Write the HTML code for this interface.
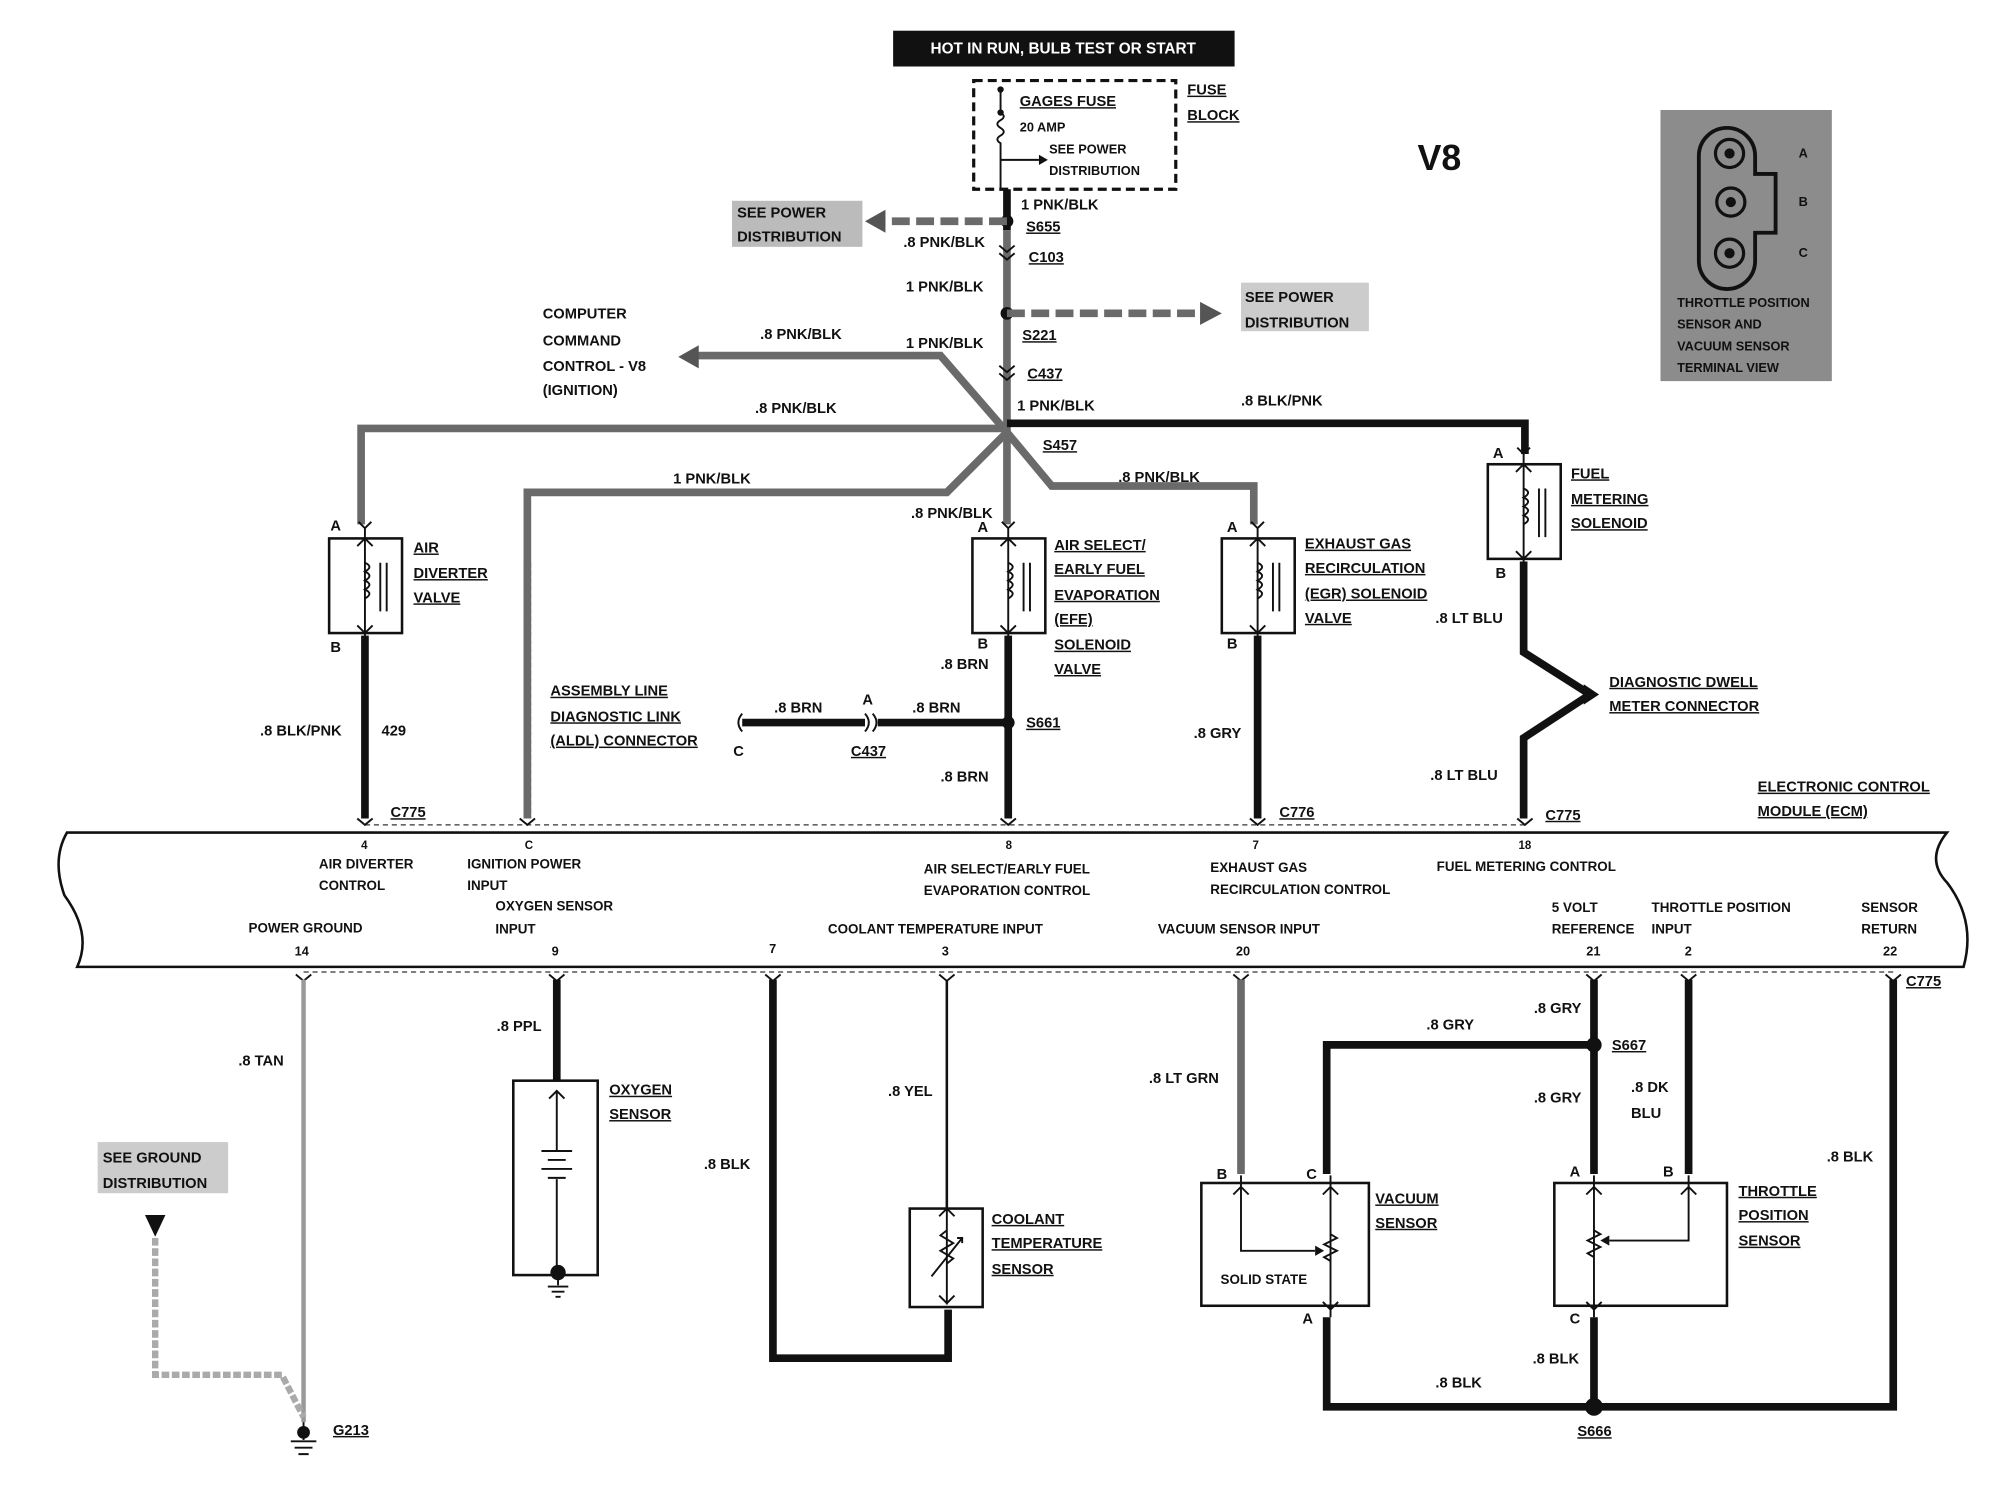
<!DOCTYPE html>
<html><head><meta charset="utf-8"><style>
html,body{margin:0;padding:0;background:#fff;}
svg{display:block;}
text{font-family:"Liberation Sans",sans-serif;font-weight:bold;font-size:11.5px;fill:#111;}
.u{text-decoration:underline;}
.g{stroke:#6a6a6a;stroke-width:6;fill:none;}
.k{stroke:#111;stroke-width:6;fill:none;}
.t{stroke:#111;stroke-width:1.5;fill:none;}
.bx{stroke:#111;stroke-width:2;fill:#fff;}
</style></head><body>
<svg width="1996" height="1504" viewBox="0 0 1560 1176" xmlns="http://www.w3.org/2000/svg">
<rect x="0" y="0" width="1560" height="1176" fill="#fff"/>
<rect x="698" y="24" width="267" height="28" fill="#111"/>
<text x="831" y="42" text-anchor="middle" style="fill:#fff;font-size:12px">HOT IN RUN,   BULB TEST OR START</text>
<rect x="761" y="63" width="158" height="85" fill="none" stroke="#111" stroke-width="2.5" stroke-dasharray="7,4"/>
<path class="t" d="M782 70 V88 q5 3 0 6 q-5 3 0 6 q5 3 0 6 q-5 3 0 6 V148" stroke-width="2"/>
<circle cx="782" cy="70" r="2.5" fill="#111"/><circle cx="782" cy="88" r="2.5" fill="#111"/>
<path class="t" d="M782 125 H812" stroke-width="2"/><path d="M812 121 L819 125 L812 129Z" fill="#111"/>
<text x="797" y="83" class="u">GAGES FUSE</text>
<text x="797" y="103" style="font-size:10px">20 AMP</text>
<text x="820" y="120" style="font-size:10px">SEE POWER</text>
<text x="820" y="137" style="font-size:10px">DISTRIBUTION</text>
<text x="928" y="74" class="u">FUSE</text><text x="928" y="94" class="u">BLOCK</text>
<text x="1108" y="133" style="font-size:28px">V8</text>
<rect x="1298" y="86" width="134" height="212" fill="#8c8c8c"/>
<path d="M1350 100 a22 22 0 0 1 22 22 v14 h16 v46 h-16 v22 a22 22 0 0 1 -44 0 v-82 a22 22 0 0 1 22 -22z" fill="none" stroke="#111" stroke-width="3"/>
<circle cx="1352" cy="120" r="11" fill="none" stroke="#111" stroke-width="2.5"/><circle cx="1352" cy="120" r="4" fill="#111"/>
<circle cx="1353" cy="158" r="11" fill="none" stroke="#111" stroke-width="2.5"/><circle cx="1353" cy="158" r="4" fill="#111"/>
<circle cx="1352" cy="198" r="11" fill="none" stroke="#111" stroke-width="2.5"/><circle cx="1352" cy="198" r="4" fill="#111"/>
<text x="1406" y="123" style="font-size:10px">A</text><text x="1406" y="161" style="font-size:10px">B</text><text x="1406" y="201" style="font-size:10px">C</text>
<text x="1311" y="240" style="font-size:10px">THROTTLE POSITION</text>
<text x="1311" y="257" style="font-size:10px">SENSOR AND</text>
<text x="1311" y="274" style="font-size:10px">VACUUM SENSOR</text>
<text x="1311" y="291" style="font-size:10px">TERMINAL VIEW</text>
<path class="k" d="M787 148 V180"/>
<path class="g" d="M787 180 V338"/>
<circle cx="787" cy="173" r="5" fill="#111"/>
<path class="g" d="M787 173 H690" stroke-dasharray="14,5" stroke-width="7"/>
<path d="M692 164 L676 173 L692 182Z" fill="#555"/>
<rect x="572" y="157" width="102" height="36" fill="#bbb"/>
<text x="576" y="170">SEE POWER</text><text x="576" y="189">DISTRIBUTION</text>
<text x="798" y="164">1 PNK/BLK</text><text x="802" y="181" class="u">S655</text>
<text x="706" y="193">.8 PNK/BLK</text>
<path class="t" d="M781 192 l6 5 l6 -5 M781 198 l6 5 l6 -5" stroke-width="2"/>
<text x="804" y="205" class="u">C103</text>
<text x="708" y="228">1 PNK/BLK</text>
<circle cx="787" cy="245" r="5" fill="#111"/>
<path class="g" d="M787 245 H940" stroke-dasharray="14,5" stroke-width="7"/>
<path d="M938 236 L955 245 L938 254Z" fill="#555"/>
<rect x="970" y="221" width="100" height="38" fill="#ccc"/>
<text x="973" y="236">SEE POWER</text><text x="973" y="256">DISTRIBUTION</text>
<text x="799" y="266" class="u">S221</text>
<path class="t" d="M781 286 l6 5 l6 -5 M781 292 l6 5 l6 -5" stroke-width="2"/>
<text x="803" y="296" class="u">C437</text>
<path class="g" d="M787 338 L735 278 H545"/>
<path d="M546 270 L530 279 L546 288Z" fill="#555"/>
<text x="424" y="249">COMPUTER</text><text x="424" y="270">COMMAND</text><text x="424" y="290">CONTROL - V8</text><text x="424" y="309">(IGNITION)</text>
<text x="594" y="265">.8 PNK/BLK</text><text x="708" y="272">1 PNK/BLK</text>
<path class="g" d="M787 335 H282 V410"/>
<text x="590" y="323">.8 PNK/BLK</text>
<path class="k" d="M787 331 H1192 V355" stroke-width="5"/>
<text x="970" y="317">.8 BLK/PNK</text><text x="795" y="321">1 PNK/BLK</text>
<text x="815" y="352" class="u">S457</text>
<path class="g" d="M787 338 L740 385 H412 V640" />
<path class="g" d="M412 440 V640" stroke="#999" stroke-dasharray="4,2"/>
<text x="526" y="378">1 PNK/BLK</text>
<path class="g" d="M787 338 V410"/>
<text x="712" y="405">.8 PNK/BLK</text>
<path class="g" d="M787 338 L822 380 H980 V410"/>
<text x="874" y="377">.8 PNK/BLK</text>
<g id="sol">
<rect class="bx" x="257" y="421" width="57" height="74"/>
<path class="t" d="M285 413 l-5 -5 M285 413 l5 -5 M285 413 V500 M279 489 l6 6 l6 -6 M279 427 l6 -6 l6 6"/>
<path class="t" d="M285 440 q7 3 0 7 q7 3 0 7 q7 3 0 7 q7 3 0 7"/>
<path class="t" d="M297 440 V478 M302 440 V478"/>
</g>
<text x="258" y="415">A</text><text x="258" y="510">B</text>
<text x="323" y="432" class="u">AIR</text><text x="323" y="452" class="u">DIVERTER</text><text x="323" y="471" class="u">VALVE</text>
<path class="k" d="M285 497 V640"/>
<text x="203" y="575">.8 BLK/PNK</text><text x="298" y="575">429</text>
<text x="305" y="639" class="u">C775</text>
<use href="#sol" x="503" y="0"/>
<text x="764" y="416">A</text><text x="764" y="507">B</text>
<text x="824" y="430" class="u">AIR SELECT/</text><text x="824" y="449" class="u">EARLY FUEL</text><text x="824" y="469" class="u">EVAPORATION</text><text x="824" y="488" class="u">(EFE)</text><text x="824" y="508" class="u">SOLENOID</text><text x="824" y="527" class="u">VALVE</text>
<path class="k" d="M788 497 V640"/>
<text x="735" y="523">.8 BRN</text>
<circle cx="788" cy="565" r="5" fill="#111"/>
<text x="802" y="569" class="u">S661</text><text x="735" y="611">.8 BRN</text>
<text x="430" y="544" class="u">ASSEMBLY LINE</text><text x="430" y="564" class="u">DIAGNOSTIC LINK</text><text x="430" y="583" class="u">(ALDL) CONNECTOR</text>
<path class="t" d="M580 558 q-6 7 0 14" stroke-width="2.5"/>
<path class="k" d="M580 565 H676 M686 565 H788" stroke-width="5"/>
<path class="t" d="M676 558 q6 7 0 14 M682 558 q6 7 0 14" stroke-width="2.5"/>
<text x="573" y="591">C</text><text x="674" y="551">A</text><text x="665" y="591" class="u">C437</text>
<text x="605" y="557">.8 BRN</text><text x="713" y="557">.8 BRN</text>
<use href="#sol" x="698" y="0"/>
<text x="959" y="416">A</text><text x="959" y="507">B</text>
<text x="1020" y="429" class="u">EXHAUST GAS</text><text x="1020" y="448" class="u">RECIRCULATION</text><text x="1020" y="468" class="u">(EGR) SOLENOID</text><text x="1020" y="487" class="u">VALVE</text>
<path class="k" d="M983 497 V640"/>
<text x="933" y="577">.8 GRY</text><text x="1000" y="639" class="u">C776</text>
<use href="#sol" x="906" y="-58"/>
<text x="1167" y="358">A</text><text x="1169" y="452">B</text>
<text x="1228" y="374" class="u">FUEL</text><text x="1228" y="394" class="u">METERING</text><text x="1228" y="413" class="u">SOLENOID</text>
<path class="k" d="M1191 439 V510 L1243 543 L1191 577 V640"/>
<path d="M1238 535 L1250 543 L1238 551Z" fill="#111"/>
<text x="1122" y="487">.8 LT BLU</text><text x="1118" y="610">.8 LT BLU</text>
<text x="1258" y="537" class="u">DIAGNOSTIC DWELL</text><text x="1258" y="556" class="u">METER CONNECTOR</text>
<text x="1208" y="641" class="u">C775</text>
<text x="1374" y="619" class="u">ELECTRONIC CONTROL</text><text x="1374" y="638" class="u">MODULE (ECM)</text>
<path d="M285 645 H1192" stroke="#333" stroke-width="1" stroke-dasharray="4,3"/>
<path d="M237 760 H1480" stroke="#333" stroke-width="1" stroke-dasharray="4,3"/>
<path class="t" d="M279 640 l6 5 l6 -5 M406 640 l6 5 l6 -5 M782 640 l6 5 l6 -5 M977 640 l6 5 l6 -5 M1186 640 l6 5 l6 -5" stroke-width="2"/>
<path d="M52 651 H1522 Q1505 672 1522 690 Q1545 720 1535 756 H60 Q72 730 50 700 Q40 672 52 651Z" fill="#fff" stroke="#111" stroke-width="2"/>
<text x="282" y="664" style="font-size:9px">4</text><text x="249" y="679" style="font-size:10.5px">AIR DIVERTER</text><text x="249" y="696" style="font-size:10.5px">CONTROL</text>
<text x="410" y="664" style="font-size:9px">C</text><text x="365" y="679" style="font-size:10.5px">IGNITION POWER</text><text x="365" y="696" style="font-size:10.5px">INPUT</text>
<text x="786" y="664" style="font-size:9px">8</text><text x="722" y="683" style="font-size:10.5px">AIR SELECT/EARLY FUEL</text><text x="722" y="700" style="font-size:10.5px">EVAPORATION CONTROL</text>
<text x="979" y="664" style="font-size:9px">7</text><text x="946" y="682" style="font-size:10.5px">EXHAUST GAS</text><text x="946" y="699" style="font-size:10.5px">RECIRCULATION CONTROL</text>
<text x="1187" y="664" style="font-size:9px">18</text><text x="1123" y="681" style="font-size:10.5px">FUEL METERING CONTROL</text>
<text x="194" y="729" style="font-size:10.5px">POWER GROUND</text><text x="230" y="747" style="font-size:10px">14</text>
<text x="387" y="712" style="font-size:10.5px">OXYGEN SENSOR</text><text x="387" y="730" style="font-size:10.5px">INPUT</text><text x="431" y="747" style="font-size:10px">9</text>
<text x="601" y="745" style="font-size:10px">7</text>
<text x="647" y="730" style="font-size:10.5px">COOLANT TEMPERATURE INPUT</text><text x="736" y="747" style="font-size:10px">3</text>
<text x="905" y="730" style="font-size:10.5px">VACUUM SENSOR INPUT</text><text x="966" y="747" style="font-size:10px">20</text>
<text x="1213" y="713" style="font-size:10.5px">5 VOLT</text><text x="1213" y="730" style="font-size:10.5px">REFERENCE</text><text x="1240" y="747" style="font-size:10px">21</text>
<text x="1291" y="713" style="font-size:10.5px">THROTTLE POSITION</text><text x="1291" y="730" style="font-size:10.5px">INPUT</text><text x="1317" y="747" style="font-size:10px">2</text>
<text x="1455" y="713" style="font-size:10.5px">SENSOR</text><text x="1455" y="730" style="font-size:10.5px">RETURN</text><text x="1472" y="747" style="font-size:10px">22</text>
<text x="1490" y="771" class="u">C775</text>
<path class="t" d="M231 762 l6 5 l6 -5 M429 762 l6 5 l6 -5 M598 762 l6 5 l6 -5 M734 762 l6 5 l6 -5 M964 762 l6 5 l6 -5 M1240 762 l6 5 l6 -5 M1314 762 l6 5 l6 -5 M1474 762 l6 5 l6 -5" stroke-width="2"/>
<path d="M237 766 V1112" stroke="#999" stroke-width="3.5"/>
<text x="186" y="833">.8 TAN</text>
<circle cx="237" cy="1120" r="5" fill="#111"/>
<path class="t" d="M237 1112 V1126 M227 1127 H247 M230 1132 H244 M233 1137 H241" stroke-width="2"/>
<text x="260" y="1122" class="u">G213</text>
<rect x="76" y="893" width="102" height="40" fill="#ccc"/>
<text x="80" y="909">SEE GROUND</text><text x="80" y="929">DISTRIBUTION</text>
<path d="M113 950 L129 950 L121 967Z" fill="#111"/>
<path d="M121 968 V1075 H220 L237 1108" stroke="#aaa" stroke-width="5" fill="none" stroke-dasharray="6,2"/>
<path class="k" d="M435 766 V845"/>
<text x="388" y="806">.8 PPL</text>
<rect class="bx" x="401" y="845" width="66" height="152"/>
<path class="t" d="M435 853 V900 M435 922 V994 M429 859 l6 -6 l6 6 M423 900 H447 M428 907 H442 M423 914 H447 M428 921 H442" stroke-width="1.5"/>
<circle cx="436" cy="995" r="6" fill="#111"/>
<path class="t" d="M436 1000 V1005 M428 1006 H444 M431 1010 H441 M434 1014 H438"/>
<text x="476" y="856" class="u">OXYGEN</text><text x="476" y="875" class="u">SENSOR</text>
<path class="k" d="M604 766 V1062 H741 V1024"/>
<text x="550" y="914">.8 BLK</text>
<path d="M740 766 V945" stroke="#111" stroke-width="2" fill="none"/>
<text x="694" y="857">.8 YEL</text>
<rect class="bx" x="711" y="945" width="57" height="77"/>
<path class="t" d="M740 940 V1020 M734 951 l6 -6 l6 6 M734 1013 l6 6 l6 -6 M740 962 l-5 4 l10 6 l-10 6 l10 6 l-5 4 M728 998 L752 968 M748 968 h4 v4"/>
<text x="775" y="957" class="u">COOLANT</text><text x="775" y="976" class="u">TEMPERATURE</text><text x="775" y="996" class="u">SENSOR</text>
<path class="g" d="M970 766 V918" stroke="#888" stroke-width="5"/>
<text x="898" y="847">.8 LT GRN</text>
<rect class="bx" x="939" y="925" width="131" height="96"/>
<path class="t" d="M970 919 V978 H1028 M964 934 l6 -6 l6 6 M1040 919 V1030 M1034 934 l6 -6 l6 6 M1034 1018 l6 6 l6 -6 M1040 965 l5 3 l-10 5 l10 5 l-10 5 l5 3"/>
<path d="M1028 974 L1035 978 L1028 982Z" fill="#111"/>
<text x="951" y="922">B</text><text x="1021" y="922">C</text><text x="1018" y="1035">A</text>
<text x="954" y="1004" style="font-size:10.5px">SOLID STATE</text>
<text x="1075" y="941" class="u">VACUUM</text><text x="1075" y="960" class="u">SENSOR</text>
<path class="k" d="M1246 766 V918"/>
<path class="k" d="M1246 817 H1037 V918"/>
<circle cx="1246" cy="817" r="6" fill="#111"/>
<text x="1199" y="792">.8 GRY</text><text x="1260" y="821" class="u">S667</text>
<text x="1115" y="805">.8 GRY</text><text x="1199" y="862">.8 GRY</text>
<path class="k" d="M1320 766 V918"/>
<text x="1275" y="854">.8 DK</text><text x="1275" y="874">BLU</text>
<rect class="bx" x="1215" y="925" width="135" height="96"/>
<path class="t" d="M1246 919 V1030 M1240 934 l6 -6 l6 6 M1240 1018 l6 6 l6 -6 M1320 919 V970 H1258 M1314 934 l6 -6 l6 6 M1246 962 l5 3 l-10 5 l10 5 l-10 5 l5 3"/>
<path d="M1258 966 L1251 970 L1258 974Z" fill="#111"/>
<text x="1227" y="920">A</text><text x="1300" y="920">B</text><text x="1227" y="1035">C</text>
<text x="1359" y="935" class="u">THROTTLE</text><text x="1359" y="954" class="u">POSITION</text><text x="1359" y="974" class="u">SENSOR</text>
<path class="k" d="M1037 1030 V1100 H1480 V766"/>
<path class="k" d="M1246 1030 V1100"/>
<circle cx="1246" cy="1100" r="7" fill="#111"/>
<text x="1233" y="1123" class="u">S666</text>
<text x="1198" y="1066">.8 BLK</text><text x="1122" y="1085">.8 BLK</text><text x="1428" y="908">.8 BLK</text>
</svg>
</body></html>
